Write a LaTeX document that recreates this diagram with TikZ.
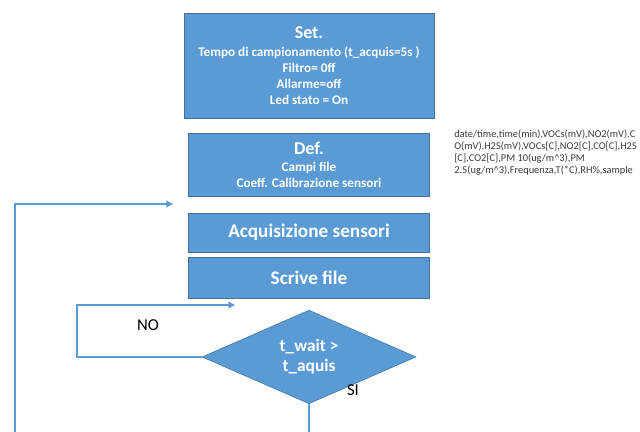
\documentclass[tikz,border=0pt]{standalone}
\usepackage{fontspec}
\setmainfont{Carlito}
\usetikzlibrary{shapes.geometric, positioning, arrows.meta}
\definecolor{boxblue}{HTML}{5B9BD5}
\definecolor{boxedge}{HTML}{41719C}
\definecolor{notegray}{HTML}{3A3A3A}
\tikzset{
x=0.75pt, y=-0.75pt, % one unit is one pixel of the sketch
block/.style={rectangle, fill=boxblue, draw=boxedge, line width=0.4pt, text=white, font=\bfseries, align=center, inner sep=0pt}, % blue process boxes
decision/.style={diamond, fill=boxblue, draw=boxedge, line width=0.4pt, text=white, font=\bfseries\fontsize{13}{15}\selectfont, align=center, inner sep=0pt}, % the test
flow/.style={draw=boxblue, line width=1.5pt, -{Triangle[length=5pt,width=5pt]}}, % loop lines with a tip
flowline/.style={draw=boxblue, line width=1.5pt}, % plain line
note/.style={text=notegray, font=\fontsize{7.8}{9}\selectfont, align=left, inner sep=0pt}, % file fields
}

\begin{document}
\begin{tikzpicture}
        \useasboundingbox (0,0) rectangle (640,432);
        \node[block, minimum width=187.5pt, minimum height=78.75pt] (set) at (309,65.5)
        {{\fontsize{13.5}{16}\selectfont Set.}\\[2pt]
        \fontsize{9.9}{12}\selectfont Tempo di campionamento (t\_acquis=5s )\\
        \fontsize{9.9}{11.5}\selectfont Filtro= 0ff\\
        \fontsize{9.9}{11.5}\selectfont Allarme=off\\
        \fontsize{9.9}{11.5}\selectfont Led stato = On};
        \node[block, minimum width=180.75pt, minimum height=47.25pt, below=11.25pt of set] (def)
        {{\fontsize{13.5}{16}\selectfont Def.}\\[1pt]
        \fontsize{9.9}{11.5}\selectfont Campi file\\
        \fontsize{9.9}{11.5}\selectfont Coeff. Calibrazione sensori};
        \node[block, minimum width=180.75pt, minimum height=29.25pt, below=12pt of def, font=\bfseries\fontsize{14.4}{16}\selectfont] (acq) {Acquisizione sensori};
        \node[block, minimum width=180.75pt, minimum height=30.75pt, below=3.75pt of acq, font=\bfseries\fontsize{14.4}{16}\selectfont] (scr) {Scrive file};
        \node[decision, minimum width=160.5pt, minimum height=59.25pt, below=8.25pt of scr] (wait) {t\_wait >\\t\_aquis};

        \node[note, anchor=north west] (campi) at (454,130)
        {date/time,time(min),VOCs(mV),NO2(mV),C\\
        O(mV),H2S(mV),VOCs[C],NO2[C],CO[C],H2S\\
        {[C]},CO2[C],PM 10(ug/m\textasciicircum 3),PM\\
        2.5(ug/m\textasciicircum 3),Frequenza,T(*C),RH\%,sample};

        \coordinate (loopstart) at (15,432);
        \coordinate (back) at (173,204);
        \coordinate (retry) at (235,305);
        \coordinate (go) at (wait.south |- loopstart);

        \draw[flow] (loopstart) |- (back);
        \draw[flow] (wait.west) -- ++(-125,0) |- (retry);
        \draw[flowline] (wait.south) -- (go);

        \node[font=\fontsize{12.5}{14}\selectfont] (no) at (148,325) {NO};
        \node[font=\fontsize{12.5}{14}\selectfont] (si) at (353,390) {SI};
      \end{tikzpicture}
\end{document}
